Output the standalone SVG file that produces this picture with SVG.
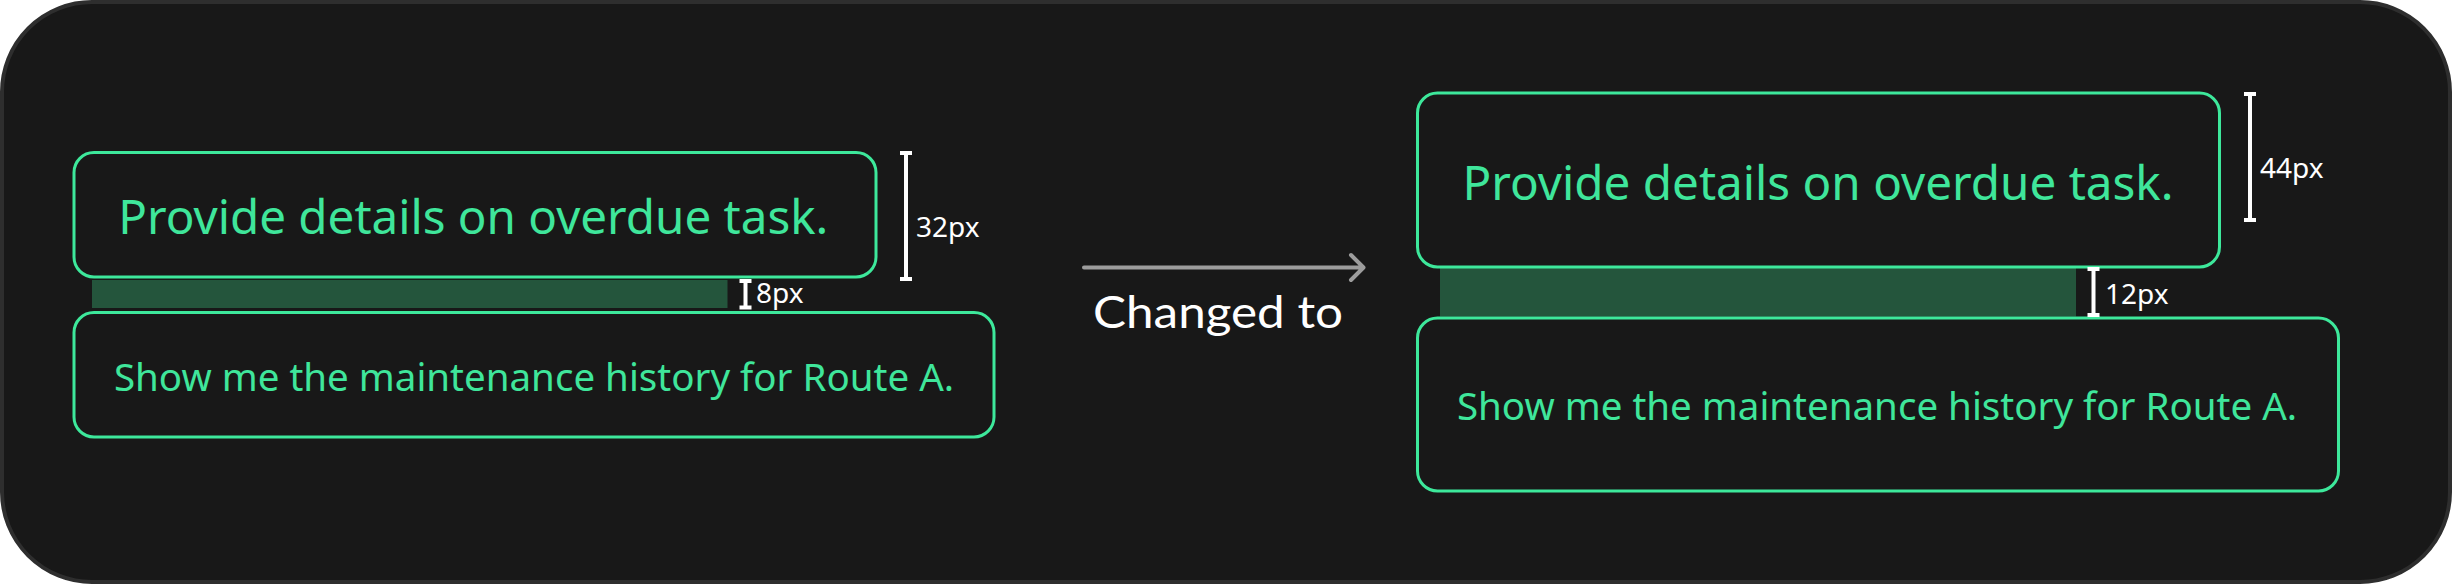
<svg xmlns="http://www.w3.org/2000/svg" width="2452" height="584" viewBox="0 0 2452 584">
  <style>
    .box { fill: #181818; stroke: #3DE89B; stroke-width: 3; }
    .bar { fill: #24553C; }
    .gt { font-family: "Noto Sans", "Open Sans", sans-serif; fill: #3FE69B; text-anchor: middle; }
    .big { font-size: 47.5px; }
    .small { font-size: 38.5px; }
    .dim { stroke: #FFFFFF; stroke-width: 4; fill: none; }
    .dimt { font-family: "Noto Sans", "Open Sans", sans-serif; font-size: 28px; fill: #FFFFFF; }
    .conn { stroke: #9C9C9C; stroke-width: 4; fill: none; stroke-linecap: round; stroke-linejoin: round; }
  </style>
  <rect x="2" y="2" width="2448" height="580" rx="90" ry="90" fill="#181818" stroke="#2E2E2E" stroke-width="4"/>

  <g id="before-bar"><rect class="bar" x="92" y="280" width="635.5" height="28"/></g>
  <g id="before-top">
    <rect class="box" x="74" y="152.5" width="802" height="124.5" rx="20"/>
    <text class="gt big" x="473.3" y="234" textLength="710" lengthAdjust="spacingAndGlyphs">Provide details on overdue task.</text>
  </g>
  <g id="before-bottom">
    <rect class="box" x="74" y="312.5" width="920" height="124.5" rx="20"/>
    <text class="gt small" x="534" y="390.5">Show me the maintenance history for Route A.</text>
  </g>

  <g id="after-bar"><rect class="bar" x="1440" y="268" width="636" height="48.5"/></g>
  <g id="after-top">
    <rect class="box" x="1417.5" y="93" width="802" height="174" rx="20"/>
    <text class="gt big" x="1818" y="199.5" textLength="711" lengthAdjust="spacingAndGlyphs">Provide details on overdue task.</text>
  </g>
  <g id="after-bottom">
    <rect class="box" x="1417.5" y="318" width="921" height="173" rx="20"/>
    <text class="gt small" x="1877" y="420">Show me the maintenance history for Route A.</text>
  </g>

  <g id="dimensions">
    <path class="dim" d="M906 153V279M900 153H912M900 279H912"/>
    <text class="dimt" x="916" y="236.5">32px</text>
    <path class="dim" d="M745.5 281V307.5M739.5 281H751.5M739.5 307.5H751.5"/>
    <text class="dimt" x="756" y="303">8px</text>
    <path class="dim" d="M2250 94V220M2244 94H2256M2244 220H2256"/>
    <text class="dimt" x="2260" y="177.5">44px</text>
    <path class="dim" d="M2093.5 269V315M2087.5 269H2099.5M2087.5 315H2099.5"/>
    <text class="dimt" x="2105" y="304">12px</text>
  </g>

  <g id="connectors">
    <path class="conn" d="M1084 267.5H1362M1351 255L1363.5 267.5L1351 280"/>
    <text x="1093" y="328" font-family="Lato, Roboto, sans-serif" font-size="45" fill="#FFFFFF" textLength="250" lengthAdjust="spacingAndGlyphs">Changed to</text>
  </g>
</svg>
